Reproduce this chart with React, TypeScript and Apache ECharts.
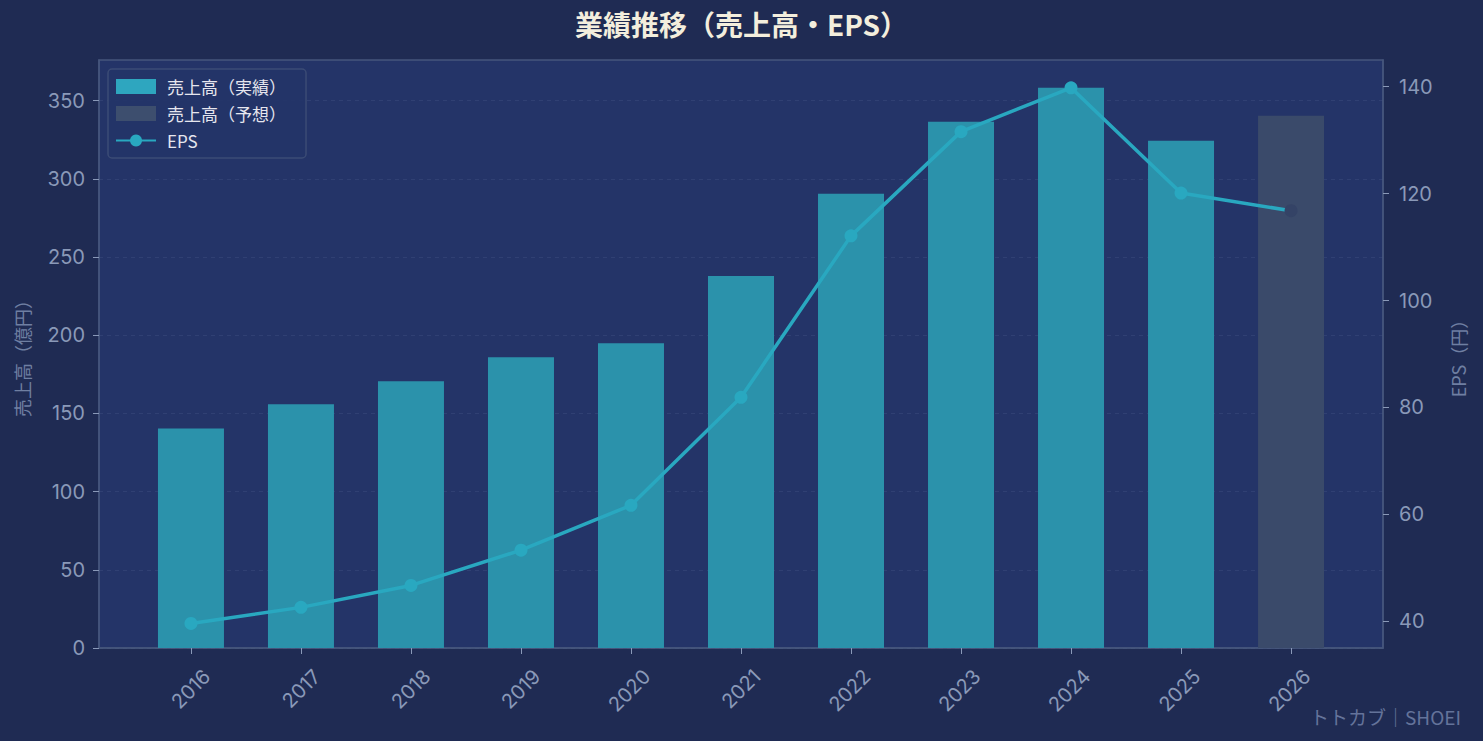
import React, { useEffect, useRef } from "react";
import * as echarts from "echarts";

const YEARS = [2016, 2017, 2018, 2019, 2020, 2021, 2022, 2023, 2024, 2025, 2026];
const SALES_ACTUAL = [140.4, 155.8, 170.5, 185.9, 194.9, 237.8, 290.4, 336.5, 358.3, 324.4];
const SALES_FORECAST = [340.4];
const EPS = [39.6, 42.6, 46.7, 53.3, 61.7, 81.9, 112.1, 131.6, 139.8, 120.1, 116.8];
const SALES_TICKS = [0, 50, 100, 150, 200, 250, 300, 350];
const EPS_TICKS = [40, 60, 80, 100, 120, 140];

const FONT = "'Noto Sans CJK JP', 'Noto Sans', sans-serif";
const NUM_FONT = "Inter, 'Noto Sans CJK JP', sans-serif";
const AXIS_TEXT = "#8a99b8";
const AXIS_LINE = "#46567c";

// x 軸の範囲（棒の中心が左右に余白を持つように）
const X_MIN = 2015.164;
const X_MAX = 2026.836;
// 回転ラベルを右へずらすためのオフセット（年単位）
const LABEL_SHIFT = 0.145;

const App: React.FC = () => {
  const ref = useRef<HTMLDivElement>(null);

  useEffect(() => {
    if (!ref.current) return;
    const chart = echarts.init(ref.current, undefined, { renderer: "svg" });

    const actualData = SALES_ACTUAL.map((v, i) => [YEARS[i], v]);
    const forecastData = SALES_FORECAST.map((v, i) => [YEARS[SALES_ACTUAL.length + i], v]);
    const epsData = EPS.map((v, i) => {
      const isForecast = i >= SALES_ACTUAL.length;
      return isForecast
        ? { value: [YEARS[i], v], itemStyle: { color: "#344366" } }
        : { value: [YEARS[i], v] };
    });

    chart.setOption({
      animation: false,
      backgroundColor: "#1f2b53",
      textStyle: { fontFamily: FONT },
      title: {
        text: "業績推移（売上高・EPS）",
        left: "center",
        top: 5,
        textStyle: { color: "#f3eedd", fontSize: 28, fontWeight: "bold", fontFamily: FONT },
      },
      legend: {
        orient: "vertical",
        left: 108,
        top: 69,
        backgroundColor: "rgba(36,52,104,0.92)",
        borderColor: "#3b4b75",
        borderWidth: 1.5,
        borderRadius: 4,
        padding: [9, 20, 9, 7],
        itemWidth: 40,
        itemHeight: 15,
        itemGap: 10,
        textStyle: { color: "#e6e6ee", fontSize: 17, fontFamily: FONT, padding: [0, 0, 0, 6] },
        data: [
          { name: "売上高（実績）", icon: "rect", itemStyle: { color: "#2ea6bf" } },
          { name: "売上高（予想）", icon: "rect", itemStyle: { color: "#3d4e6e" } },
          { name: "EPS" },
        ],
      },
      grid: {
        left: 99,
        right: 100,
        top: 60,
        bottom: 93,
        show: true,
        backgroundColor: "#243468",
        borderColor: AXIS_LINE,
        borderWidth: 1.5,
      },
      xAxis: [
        {
          type: "value",
          min: X_MIN,
          max: X_MAX,
          splitLine: { show: false },
          axisLine: { show: true, lineStyle: { color: AXIS_LINE, width: 1.5 } },
          axisTick: {
            show: true,
            customValues: YEARS,
            length: 6,
            lineStyle: { color: AXIS_TEXT },
          },
          axisLabel: { show: false },
        },
        {
          // ラベル専用の軸
          type: "value",
          position: "bottom",
          min: X_MIN - LABEL_SHIFT,
          max: X_MAX - LABEL_SHIFT,
          splitLine: { show: false },
          axisLine: { show: false },
          axisTick: { show: false },
          axisLabel: {
            customValues: YEARS,
            rotate: 45,
            color: AXIS_TEXT,
            fontSize: 20,
            margin: 25,
            fontFamily: NUM_FONT,
            formatter: (v: number) => String(Math.round(v)),
          },
        },
      ],
      yAxis: [
        {
          type: "value",
          min: 0,
          max: 376,
          interval: 50,
          name: "売上高（億円）",
          nameLocation: "middle",
          nameGap: 68,
          nameTextStyle: { color: "#6f7fa2", fontSize: 18, fontFamily: FONT },
          axisLine: { show: true, lineStyle: { color: AXIS_LINE, width: 1.5 } },
          axisTick: { show: true, customValues: SALES_TICKS, length: 6, lineStyle: { color: AXIS_TEXT } },
          axisLabel: { customValues: SALES_TICKS, color: AXIS_TEXT, fontSize: 20, margin: 14, fontFamily: NUM_FONT },
          splitLine: {
            show: true,
            lineStyle: { color: "rgba(140,160,200,0.12)", type: [4, 4], width: 1 },
          },
        },
        {
          type: "value",
          min: 35,
          max: 145,
          position: "right",
          name: "EPS（円）",
          nameLocation: "middle",
          nameGap: 66,
          nameRotate: 90,
          nameTextStyle: { color: "#6f7fa2", fontSize: 18, fontFamily: FONT },
          axisLine: { show: true, lineStyle: { color: AXIS_LINE, width: 1.5 } },
          axisTick: { show: true, customValues: EPS_TICKS, length: 6, lineStyle: { color: AXIS_TEXT } },
          axisLabel: { customValues: EPS_TICKS, color: AXIS_TEXT, fontSize: 20, margin: 16, fontFamily: NUM_FONT },
          splitLine: { show: false },
        },
      ],
      graphic: [
        {
          type: "text",
          right: 22,
          bottom: 15,
          style: {
            text: "トトカブ｜SHOEI",
            fill: "#64739a",
            fontSize: 19,
            fontFamily: FONT,
          },
        },
      ],
      series: [
        {
          name: "売上高（実績）",
          type: "bar",
          data: actualData,
          barWidth: 66,
          barGap: "-100%",
          itemStyle: { color: "#2b92ab" },
          z: 2,
        },
        {
          name: "売上高（予想）",
          type: "bar",
          data: forecastData,
          barWidth: 66,
          barGap: "-100%",
          itemStyle: { color: "#3a4a6a" },
          z: 2,
        },
        {
          name: "EPS",
          type: "line",
          yAxisIndex: 1,
          data: epsData,
          symbol: "circle",
          symbolSize: 13,
          lineStyle: { color: "#29a8c0", width: 3.5 },
          itemStyle: { color: "#29a8c0" },
          z: 5,
        },
      ],
    });

    return () => chart.dispose();
  }, []);

  return (
    <div
      ref={ref}
      style={{ position: "absolute", left: 0, top: 0, width: 1483, height: 741 }}
    />
  );
};

export default App;
